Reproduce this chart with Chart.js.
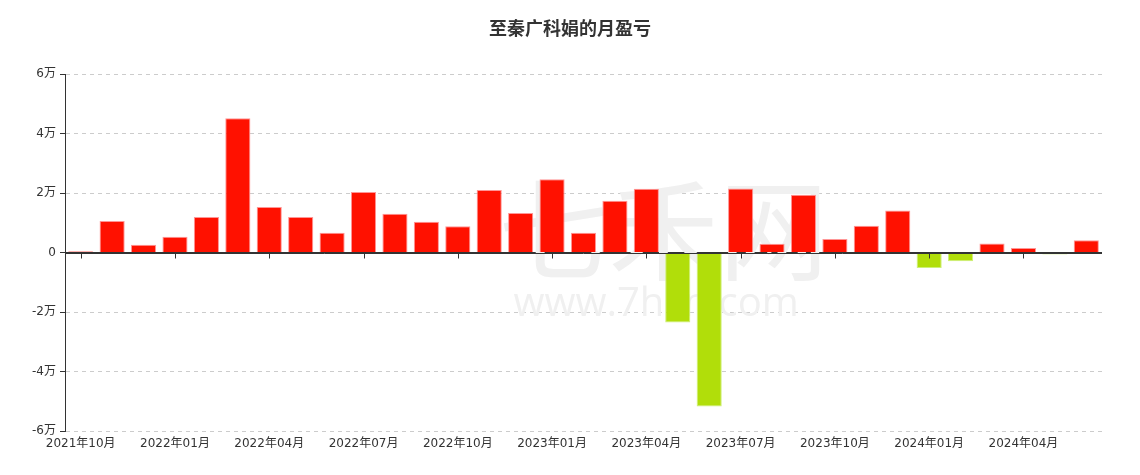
<!DOCTYPE html>
<html>
<head>
<meta charset="utf-8">
<script src="https://cdn.jsdelivr.net/npm/chart.js@4"></script>
<style>
  body { margin: 0; background: #fff; }
  #wrap { width: 1140px; height: 475px; }
</style>
</head>
<body>
<div id="wrap"><canvas id="pnlChart" width="1140" height="475"></canvas></div>
<script>
// months, 2021-10 .. 2024-06
const months = [
  '2021年10月', '2021年11月', '2021年12月',
  '2022年01月', '2022年02月', '2022年03月', '2022年04月', '2022年05月', '2022年06月',
  '2022年07月', '2022年08月', '2022年09月', '2022年10月', '2022年11月', '2022年12月',
  '2023年01月', '2023年02月', '2023年03月', '2023年04月', '2023年05月', '2023年06月',
  '2023年07月', '2023年08月', '2023年09月', '2023年10月', '2023年11月', '2023年12月',
  '2024年01月', '2024年02月', '2024年03月', '2024年04月', '2024年05月', '2024年06月'
];

// monthly profit / loss (yuan)
const pnl = [
  400, 10600, 2600,
  5300, 11900, 45100, 15300, 11900, 6600,
  20300, 13000, 10300, 8800, 21000, 13300,
  24600, 6600, 17400, 21400, -23500, -51800,
  21500, 2900, 19400, 4500, 9000, 14100,
  -5200, -2900, 3000, 1500, -700, 4100
];

const yTicks = [-60000, -40000, -20000, 0, 20000, 40000, 60000];

const TITLE = '至秦广科娟的月盈亏';
const RED = '#ff1100';
const GREEN = '#b1de0a';
const TICK_FONT = '"DejaVu Sans", "Noto Sans CJK SC", sans-serif';

// title centred on the whole canvas, plus faint site watermark
const backdrop = {
  id: 'backdrop',
  beforeDatasetsDraw(chart) {
    const { ctx, chartArea } = chart;
    const cx = (chartArea.left + chartArea.right) / 2;
    ctx.save();
    ctx.fillStyle = '#f0f0f0';
    ctx.font = '110px "Noto Sans CJK SC"';
    ctx.textAlign = 'left';
    ctx.textBaseline = 'alphabetic';
    ctx.fillText('七禾网', cx - 85, 272);
    ctx.font = '40px "Open Sans"';
    ctx.fillText('www.7hcn.com', cx - 70, 316);
    ctx.restore();
  },
  afterDraw(chart) {
    const { ctx } = chart;
    ctx.save();
    ctx.fillStyle = '#333';
    ctx.font = 'bold 18px "Noto Sans CJK SC", sans-serif';
    ctx.textAlign = 'center';
    ctx.textBaseline = 'middle';
    ctx.fillText(TITLE, chart.width / 2, 28);
    ctx.restore();
  }
};

// zero line and the small tick marks under it at labelled months
const zeroTicks = {
  id: 'zeroTicks',
  afterDatasetsDraw(chart) {
    const { ctx, scales } = chart;
    const y0 = Math.round(scales.y.getPixelForValue(0)) + 0.5;
    ctx.save();
    ctx.strokeStyle = '#333';
    ctx.lineWidth = 1;
    ctx.beginPath();
    ctx.moveTo(chart.chartArea.left, y0);
    ctx.lineTo(chart.chartArea.right, y0);
    months.forEach((m, i) => {
      if (i % 3 !== 0) return;
      const x = Math.round(scales.x.getPixelForValue(i)) + 0.5;
      ctx.moveTo(x, y0);
      ctx.lineTo(x, y0 + 5);
    });
    ctx.stroke();
    ctx.restore();
  }
};

const ctx = document.getElementById('pnlChart').getContext('2d');

const pnlChart = new Chart(ctx, {
  type: 'bar',
  data: {
    labels: months,
    datasets: [{
      data: pnl,
      backgroundColor: pnl.map(v => v >= 0 ? RED : GREEN),
      borderColor: pnl.map(v => v >= 0 ? 'rgba(255,150,150,1)' : 'rgba(205,240,120,1)'),
      borderWidth: 1,
      barPercentage: 0.8,
      categoryPercentage: 1.0
    }]
  },
  options: {
    responsive: false,
    animation: false,
    layout: { padding: { left: 0, right: 38, top: 74, bottom: 0 } },
    plugins: {
      legend: { display: false },
      tooltip: { enabled: false },
      title: { display: false }
    },
    scales: {
      x: {
        grid: { display: false, drawTicks: false },
        border: { display: false },
        ticks: {
          autoSkip: false,
          maxRotation: 0,
          padding: 6,
          color: '#333',
          font: { size: 12, family: TICK_FONT },
          callback: (v, i) => i % 3 === 0 ? months[i] : ''
        },
        afterFit: s => { s.height = 44; }
      },
      y: {
        min: yTicks[0],
        max: yTicks[yTicks.length - 1],
        afterBuildTicks: s => { s.ticks = yTicks.map(v => ({ value: v })); },
        afterFit: s => { s.width = 65; },
        border: {
          display: true,
          color: '#333',
          width: 1,
          dash: c => (c.tick && c.tick.value === 0) ? [] : [4, 4]
        },
        grid: {
          color: c => (c.tick && c.tick.value === 0) ? '#333' : '#ccc',
          tickColor: '#333',
          tickLength: 5,
          drawTicks: true
        },
        ticks: {
          padding: 4,
          color: '#333',
          font: { size: 12, family: TICK_FONT },
          callback: v => v === 0 ? '0' : (v / 10000) + '万'
        }
      }
    }
  },
  plugins: [backdrop, zeroTicks]
});
</script>
</body>
</html>
